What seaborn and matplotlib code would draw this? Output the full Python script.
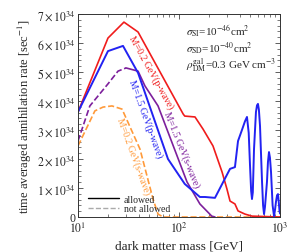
import numpy as np
import pandas as pd
import matplotlib
matplotlib.use("Agg")
import matplotlib.pyplot as plt
import matplotlib.ticker as mticker
from matplotlib.lines import Line2D
import seaborn as sns

# ---------------- data (rate in units of 1e34 s^-1) ----------------
red_mass = [10, 19.8, 28.5, 39.3, 110, 114, 144, 173, 217, 267, 298, 320, 358, 384, 450, 528, 1000]
red_rate = [3.62, 6.17, 6.72, 6.38, 3.55, 3.48, 3.45, 3.03, 2.45, 1.55, 0.97, 0.55, 0.45, 0.21, 0.10, 0.03, 0.0]

blue_mass = [10, 19.8, 27.9, 39.3, 77.8, 114, 161, 181, 227, 320, 358, 384, 420, 450, 471, 490,
             505, 518, 528, 538, 553, 578, 592, 605, 618, 634, 664, 680, 695, 710, 743, 760,
             778, 795, 815, 845, 873, 893, 912, 935, 955, 970, 990, 1000]
blue_rate = [3.62, 5.72, 5.90, 4.97, 2.0, 1.14, 0.69, 0.69, 0.66, 1.66, 1.72, 2.62, 3.0, 3.3, 3.45, 2.9,
             1.76, 0.9, 0.62, 0.85, 2.34, 3.62, 3.85, 3.9, 3.7, 3.14, 1.21, 0.4, 0.1, 0.35, 1.21, 1.9,
             2.24, 2.05, 1.55, 0.4, 0.03, 0.25, 0.52, 0.75, 0.79, 0.55, 0.2, 0.12]

purple_na_mass = [10, 13.1, 19.8, 24.9, 29.9]
purple_na_rate = [2.62, 3.83, 4.59, 5.03, 5.14]
purple_mass = [29.9, 39.3, 46, 62, 120, 161, 211, 227]
purple_rate = [5.14, 5.03, 4.52, 3.83, 1.21, 0.45, 0.03, 0.0]

orange_mass = [10, 14.7, 17.7, 21.7, 27.3, 41.1, 55.3, 62, 69.6, 1000]
orange_rate = [2.45, 3.66, 3.79, 3.83, 3.72, 2.34, 0.62, 0.10, 0.0, 0.0]

y_ticks = [0, 1, 2, 3, 4, 5, 6, 7]
x_ticks = [10, 100, 1000]

RED = "#f01c1c"
BLUE = "#2222f2"
PURPLE = "#7d1f9c"
ORANGE = "#ff9a3a"

# ---------------- style ----------------
sns.set_style("ticks")
plt.rcParams["font.family"] = ["Liberation Serif", "DejaVu Serif"]
plt.rcParams["mathtext.fontset"] = "stix"

fig = plt.figure(figsize=(2.91, 2.53), dpi=100)
ax = fig.add_axes([78 / 291, 35 / 253, 202 / 291, 203 / 253])

def draw(m, r, color, ls="-", lw=1.2):
    df = pd.DataFrame({"mass": m, "rate": r})
    sns.lineplot(data=df, x="mass", y="rate", ax=ax, color=color, sort=False,
                 estimator=None, linestyle=ls, linewidth=lw)

draw(orange_mass, orange_rate, ORANGE, "--")
draw(purple_na_mass, purple_na_rate, PURPLE, "--")
draw(purple_mass, purple_rate, PURPLE, "-")
draw(red_mass, red_rate, RED, "-")
draw(blue_mass, blue_rate, BLUE, "-", lw=1.4)

ax.set_xscale("log")
ax.set_xlim(10, 1000)
ax.set_ylim(0, 7)
ax.set_xticks(x_ticks)
ax.xaxis.set_major_formatter(mticker.FuncFormatter(lambda v, p: r"$10^{%d}$" % round(np.log10(v))))
ax.set_yticks(y_ticks)
ax.yaxis.set_major_formatter(mticker.FuncFormatter(
    lambda v, p: "0" if v == 0 else r"$%d\times10^{34}$" % v))
ax.yaxis.set_minor_locator(mticker.MultipleLocator(0.2))
ax.tick_params(which="both", direction="in", top=True, right=True, labelsize=8.5, pad=2,
               color="#444444")
ax.tick_params(axis="x", which="major", pad=3)
ax.tick_params(which="major", length=3.5, width=0.6)
ax.tick_params(which="minor", length=2, width=0.5)
for s in ax.spines.values():
    s.set_linewidth(0.7)
    s.set_color("#333333")

ax.set_xlabel("dark matter mass [GeV]", fontsize=9.5, labelpad=3)
ax.set_ylabel(r"time averaged annihilation rate [sec$^{-1}$]", fontsize=9, labelpad=2)

# curve labels, set beside their curves
def lab(txt, x, y, rot, color, dx, dy):
    ax.annotate(txt, xy=(x, y), xytext=(dx, dy), textcoords="offset pixels",
                color=color, fontsize=7, rotation=rot, ha="center", va="center",
                rotation_mode="anchor", zorder=5)

lab("M=0.2 GeV(p-wave)", 62, 5.15, -61, RED, -7, -3.8)
lab("M=1.5 GeV(p-wave)", 55, 3.51, -70, BLUE, -7.5, -2.7)
lab("M=1.5 GeV(s-wave)", 92, 2.25, -68, PURPLE, 6.8, 2.7)
lab("M=0.2 GeV(s-wave)", 42, 2.2, -70, ORANGE, -7.5, -2.7)

ax.text(0.535, 0.83, r"$\sigma_{\rm SI}$=10$^{-46}$cm$^2$" "\n"
        r"$\sigma_{\rm SD}$=10$^{-40}$cm$^2$" "\n"
        r"$\rho_{\rm DM}^{\rm gal}$=0.3 GeV cm$^{-3}$",
        transform=ax.transAxes, fontsize=8, va="center", ha="left", linespacing=1.0)

handles = [Line2D([0], [0], color="black", lw=1.0),
           Line2D([0], [0], color="#aaaaaa", lw=1.0, ls="--")]
ax.legend(handles, ["allowed", "not allowed"], loc="lower left", frameon=False,
          fontsize=7, handlelength=3.2, handletextpad=0.5, borderaxespad=0.2,
          labelspacing=0.05, bbox_to_anchor=(0.02, -0.01))

fig.savefig("out.png", dpi=100)
